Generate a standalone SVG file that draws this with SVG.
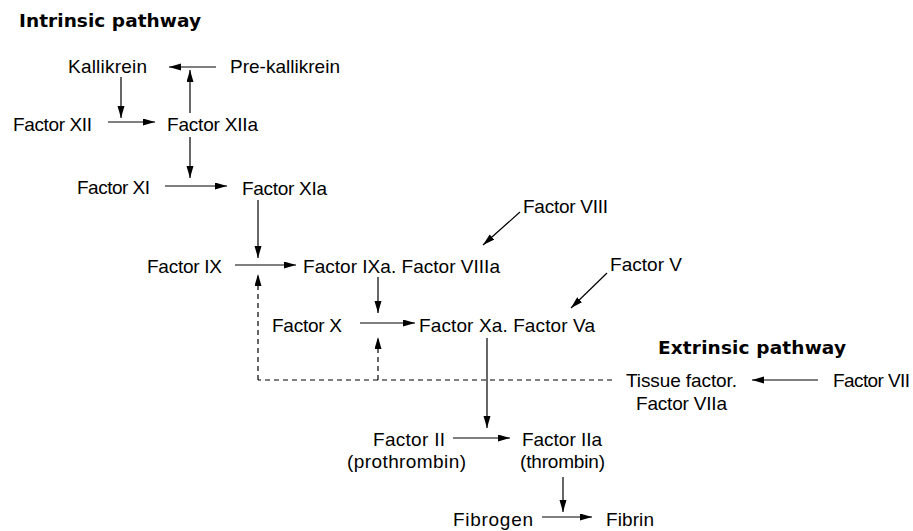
<svg xmlns="http://www.w3.org/2000/svg" width="913" height="531" viewBox="0 0 913 531">
<defs>
<marker id="ah" markerUnits="userSpaceOnUse" markerWidth="13" markerHeight="8" refX="12" refY="3.5" orient="auto">
<path d="M0,0 L12,3.5 L0,7 z" fill="#000"/>
</marker>
<style>
text{font-family:"Liberation Sans",Arial,sans-serif;font-size:19px;fill:#000}
.t{font-family:"DejaVu Sans","Liberation Sans",sans-serif;font-weight:bold;font-size:18.5px}
.c line{stroke:#000;stroke-width:1.2;fill:none}
.c .a{marker-end:url(#ah)}
.c .d{stroke-dasharray:5 4}
</style>
</defs>
<rect width="913" height="531" fill="#fff"/>
<g id="titles">
<text class="t" x="19" y="27" textLength="182">Intrinsic pathway</text>
<text class="t" x="658" y="354" textLength="188">Extrinsic pathway</text>
</g>
<g id="kallikrein"><text x="68" y="73" textLength="79">Kallikrein</text></g>
<g id="prekallikrein"><text x="230" y="73" textLength="110">Pre-kallikrein</text></g>
<g id="f12"><text x="13" y="131" textLength="79">Factor XII</text></g>
<g id="f12a"><text x="167" y="131" textLength="91">Factor XIIa</text></g>
<g id="f11"><text x="77" y="194" textLength="73">Factor XI</text></g>
<g id="f11a"><text x="242" y="195" textLength="85">Factor XIa</text></g>
<g id="f9"><text x="147" y="273" textLength="75">Factor IX</text></g>
<g id="f9a8a"><text x="303" y="273" textLength="197">Factor IXa. Factor VIIIa</text></g>
<g id="f8"><text x="523" y="213" textLength="85">Factor VIII</text></g>
<g id="f5"><text x="610" y="271" textLength="72">Factor V</text></g>
<g id="f10"><text x="272" y="332" textLength="70">Factor X</text></g>
<g id="f10a5a"><text x="419" y="332" textLength="176">Factor Xa. Factor Va</text></g>
<g id="tf7a">
<text x="626" y="387" textLength="111">Tissue factor.</text>
<text x="636" y="410" textLength="91">Factor VIIa</text>
</g>
<g id="f7"><text x="833" y="387" textLength="77">Factor VII</text></g>
<g id="f2">
<text x="373" y="446" textLength="72">Factor II</text>
<text x="347" y="468" textLength="119">(prothrombin)</text>
</g>
<g id="f2a">
<text x="522" y="446" textLength="80">Factor IIa</text>
<text x="520" y="468" textLength="85">(thrombin)</text>
</g>
<g id="fibrogen"><text x="453" y="526" textLength="80">Fibrogen</text></g>
<g id="fibrin"><text x="606" y="526" textLength="48">Fibrin</text></g>
<g id="connectors" class="c">
<line class="a" x1="216" y1="67" x2="169" y2="67"/>
<line class="a" x1="121" y1="77" x2="121" y2="118"/>
<line class="a" x1="108" y1="122" x2="155" y2="122"/>
<line class="a" x1="190" y1="113" x2="190" y2="70"/>
<line class="a" x1="190" y1="137" x2="190" y2="178"/>
<line class="a" x1="165" y1="186" x2="227" y2="186"/>
<line class="a" x1="258" y1="200" x2="258" y2="258"/>
<line class="a" x1="235" y1="265" x2="296" y2="265"/>
<line class="a" x1="378" y1="277" x2="378" y2="313"/>
<line class="a" x1="360" y1="323" x2="415" y2="323"/>
<line class="a" x1="520" y1="212" x2="483" y2="245"/>
<line class="a" x1="607" y1="273" x2="571" y2="308"/>
<line class="a" x1="487" y1="338" x2="487" y2="428"/>
<line class="a" x1="453" y1="438" x2="510" y2="438"/>
<line class="a" x1="563" y1="477" x2="563" y2="512"/>
<line class="a" x1="542" y1="517" x2="592" y2="517"/>
<line class="a" x1="818" y1="380" x2="752" y2="380"/>
<line class="d" x1="612" y1="380" x2="258" y2="380"/>
<line class="a d" x1="258" y1="380" x2="258" y2="274"/>
<line class="a d" x1="378" y1="380" x2="378" y2="337"/>
</g>
</svg>
